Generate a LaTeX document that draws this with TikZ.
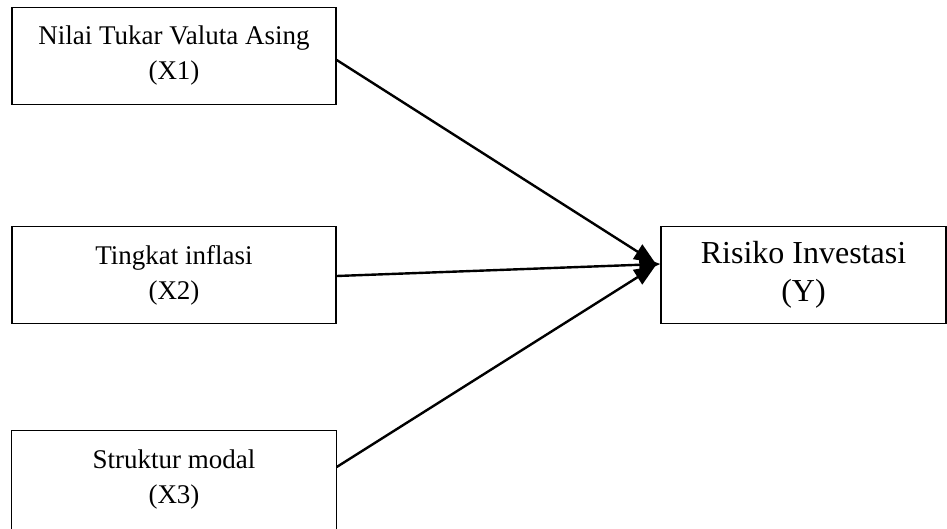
\documentclass[tikz,border=0pt]{standalone}
\usepackage{fontspec}
\setmainfont{Liberation Serif}
\usetikzlibrary{arrows.meta,positioning}
\tikzset{
    varbox/.style={
        rectangle,
        draw,
        line width=1.4pt,
        minimum width=324pt,
        minimum height=97pt,
        align=center,
        font=\fontsize{27}{35}\selectfont
    },
    arrow/.style={-{Triangle[length=21pt,width=17pt]}, line width=2.4pt}
}
\begin{document}
\begin{tikzpicture}[x=1pt,y=1pt]
    \useasboundingbox (0,0) rectangle (947,528);
    % variabel independen
    \node[varbox] (x1) at (174,472) {Nilai Tukar Valuta Asing\\(X1)};
    \node[varbox] (x2) at (174,253) {Tingkat inflasi\\(X2)};
    \node[varbox, draw=none] (x3) at (174,48.5) {Struktur modal\\(X3)};
    \draw[line width=1.4pt] (x3.north west) rectangle ([yshift=-30pt]x3.south east); % kotak terpotong di bawah
    % variabel dependen
    \node[varbox, minimum width=285pt, font=\fontsize{32}{38}\selectfont] (y) at (803.5,253) {Risiko Investasi\\(Y)};

    \draw[arrow] ([yshift=-4pt]x1.east) -- ([xshift=-5pt,yshift=12pt]y.west);
    \draw[arrow] ([yshift=-1pt]x2.east) -- ([yshift=11pt]y.west);
    \draw[arrow] ([yshift=12.5pt]x3.east) -- ([xshift=-5pt,yshift=9pt]y.west);
\end{tikzpicture}
\end{document}
